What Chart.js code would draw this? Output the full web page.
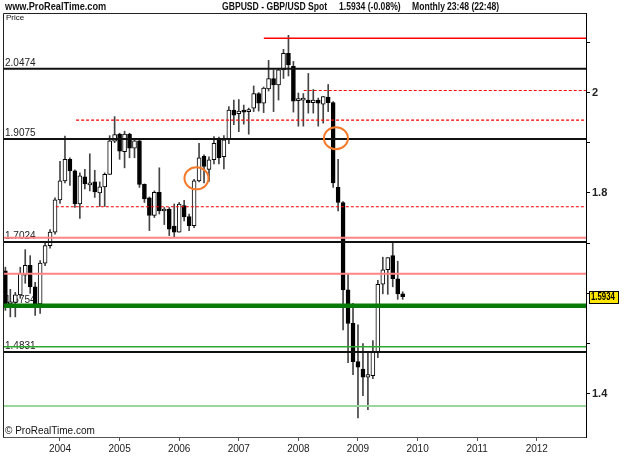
<!DOCTYPE html>
<html>
<head>
<meta charset="utf-8">
<script src="https://cdn.jsdelivr.net/npm/chart.js@4.4.0/dist/chart.umd.min.js"></script>
<style>
  html, body { margin: 0; padding: 0; background: #fff; }
  #wrap { width: 625px; height: 469px; }
</style>
</head>
<body>
<div id="wrap"><canvas id="chart" width="625" height="469"></canvas></div>
<script>
// Monthly GBPUSD candles, Feb 2003 .. Oct 2009 (last one still open)
const firstYear = 2003;
const firstMonth = 2;

const opens = [
  1.645, 1.579, 1.582, 1.597, 1.636, 1.656, 1.613, 1.579, 1.660, 1.695, 1.722, 1.786,
  1.824, 1.867, 1.844, 1.778, 1.832, 1.816, 1.822, 1.800, 1.812, 1.837, 1.903, 1.917,
  1.882, 1.917, 1.889, 1.904, 1.817, 1.790, 1.755, 1.801, 1.764, 1.768, 1.734, 1.722,
  1.775, 1.753, 1.735, 1.824, 1.873, 1.847, 1.866, 1.906, 1.872, 1.906, 1.965, 1.958,
  1.963, 1.962, 1.969, 1.998, 1.979, 2.007, 2.028, 2.015, 2.045, 2.078, 2.052, 1.984,
  1.985, 1.985, 1.980, 1.985, 1.977, 1.991, 1.980, 1.811, 1.781, 1.607, 1.540, 1.464,
  1.449, 1.433, 1.436, 1.484, 1.618, 1.647, 1.675, 1.629, 1.599
];
const highs = [
  1.652, 1.608, 1.602, 1.652, 1.687, 1.675, 1.622, 1.665, 1.700, 1.727, 1.790, 1.863,
  1.913, 1.870, 1.846, 1.840, 1.847, 1.878, 1.845, 1.822, 1.840, 1.914, 1.952, 1.919,
  1.923, 1.919, 1.906, 1.906, 1.818, 1.792, 1.804, 1.850, 1.771, 1.771, 1.778, 1.781,
  1.785, 1.758, 1.827, 1.899, 1.876, 1.872, 1.912, 1.911, 1.914, 1.972, 1.985, 1.986,
  1.975, 1.969, 2.013, 2.000, 2.011, 2.064, 2.045, 2.046, 2.086, 2.114, 2.062, 1.999,
  1.998, 2.038, 2.006, 1.989, 1.992, 2.016, 1.982, 1.867, 1.783, 1.640, 1.580, 1.537,
  1.500, 1.484, 1.506, 1.626, 1.672, 1.671, 1.702, 1.664, 1.603
];
const lows = [
  1.566, 1.553, 1.553, 1.590, 1.620, 1.600, 1.556, 1.560, 1.655, 1.690, 1.718, 1.779,
  1.820, 1.815, 1.771, 1.749, 1.808, 1.804, 1.791, 1.773, 1.773, 1.837, 1.900, 1.867,
  1.850, 1.870, 1.870, 1.811, 1.781, 1.725, 1.751, 1.758, 1.737, 1.715, 1.712, 1.722,
  1.744, 1.725, 1.731, 1.822, 1.820, 1.823, 1.858, 1.858, 1.848, 1.898, 1.936, 1.922,
  1.937, 1.917, 1.962, 1.963, 1.960, 2.003, 1.962, 1.985, 2.028, 2.033, 1.961, 1.933,
  1.933, 1.959, 1.959, 1.933, 1.939, 1.962, 1.811, 1.764, 1.527, 1.462, 1.438, 1.352,
  1.396, 1.368, 1.430, 1.472, 1.599, 1.598, 1.613, 1.588, 1.588
];
const closes = [
  1.579, 1.582, 1.597, 1.640, 1.656, 1.613, 1.579, 1.660, 1.695, 1.722, 1.786, 1.824,
  1.867, 1.844, 1.778, 1.834, 1.818, 1.820, 1.802, 1.812, 1.837, 1.904, 1.916, 1.883,
  1.917, 1.889, 1.904, 1.817, 1.788, 1.755, 1.801, 1.764, 1.768, 1.728, 1.722, 1.778,
  1.752, 1.735, 1.824, 1.870, 1.853, 1.866, 1.899, 1.870, 1.906, 1.965, 1.955, 1.963,
  1.961, 1.966, 1.998, 1.979, 2.009, 2.028, 2.015, 2.045, 2.078, 2.055, 1.983, 1.987,
  1.987, 1.980, 1.985, 1.979, 1.992, 1.980, 1.820, 1.781, 1.607, 1.540, 1.464, 1.453,
  1.433, 1.438, 1.484, 1.618, 1.647, 1.671, 1.629, 1.599, 1.5934
];

// Horizontal levels drawn on the chart (start = year the line begins, null = from left edge)
const levelValues = [2.108, 2.0474, 2.004, 1.945, 1.9075, 1.7725, 1.7108, 1.7024, 1.639, 1.5754, 1.4937, 1.4831, 1.3755];
const levelStarts = [2007.42, null, 2008.09, 2004.27, null, 2003.93, null, null, null, null, null, null, null];
const levelLabels = ['', '2.0474', '', '', '1.9075', '', '', '1.7024', '', '1.5754', '', '1.4831', ''];
const levelKinds = ['red', 'black', 'redDot', 'redDot', 'black', 'redDot', 'pink', 'black', 'pink', 'greenThick', 'green', 'black', 'lightGreen'];

// Orange circled spots
const markX = [2006.29, 2008.63];
const markY = [1.829, 1.9088];

const yearTicks = [2004, 2005, 2006, 2007, 2008, 2009, 2010, 2011, 2012];
const priceLabels = [1.4, 1.8, 2.0];
const lastPrice = 1.5934;
const headerParts = ['GBPUSD - GBP/USD Spot', '1.5934 (-0.08%)', 'Monthly', '23:48 (22:48)'];

const X_MIN = 2003.0436, X_MAX = 2012.826;
const Y_MIN = 1.3138, Y_MAX = 2.1584;
const FONT = '"Liberation Sans", Arial, sans-serif';

const levelStyle = {
  red:        { color: '#ff0000', width: 1.5, dash: [] },
  redDot:     { color: '#ff0000', width: 1.2, dash: [3, 2] },
  black:      { color: '#111111', width: 2, dash: [] },
  pink:       { color: '#ff8484', width: 2, dash: [] },
  greenThick: { color: '#077a07', width: 4.5, dash: [] },
  green:      { color: '#2fa82f', width: 1.5, dash: [] },
  lightGreen: { color: '#9ad69a', width: 2, dash: [] }
};

function monthX(i) {
  return firstYear + (firstMonth - 1 + i) / 12;
}

// condensed text, like the terminal's narrow bold font
function narrowText(ctx, text, x, y, squeeze) {
  ctx.save();
  ctx.translate(x, y);
  ctx.scale(squeeze, 1);
  ctx.fillText(text, 0, 0);
  ctx.restore();
}

const wickData = lows.map((l, i) => ({ x: monthX(i), y: [l, highs[i]] }));
const bodyData = opens.map((o, i) => ({ x: monthX(i), y: [o, closes[i]] }));
const bodyFill = opens.map((o, i) => (closes[i] >= o ? '#ffffff' : '#000000'));

const levelSets = levelValues.map((v, i) => {
  const st = levelStyle[levelKinds[i]];
  return {
    type: 'line',
    data: [{ x: levelStarts[i] === null ? X_MIN : levelStarts[i], y: v }, { x: X_MAX, y: v }],
    borderColor: st.color,
    borderWidth: st.width,
    borderDash: st.dash,
    pointRadius: 0,
    fill: false,
    order: 0
  };
});

const decorPlugin = {
  id: 'decor',
  beforeDatasetsDraw(chart) {
    const { ctx, chartArea: a, scales: { y } } = chart;
    ctx.save();
    ctx.font = '10px ' + FONT;
    ctx.fillStyle = '#222';
    ctx.textBaseline = 'bottom';
    levelLabels.forEach((t, i) => {
      if (t) ctx.fillText(t, a.left + 2, y.getPixelForValue(levelValues[i]) - 0.5);
    });
    ctx.restore();
  },
  afterDatasetsDraw(chart) {
    const { ctx, scales: { x, y } } = chart;
    ctx.save();
    ctx.strokeStyle = '#f47a2a';
    ctx.lineWidth = 2;
    markX.forEach((mx, i) => {
      ctx.beginPath();
      ctx.ellipse(x.getPixelForValue(mx), y.getPixelForValue(markY[i]), 12, 11, 0, 0, Math.PI * 2);
      ctx.stroke();
    });
    ctx.restore();
  },
  afterDraw(chart) {
    const { ctx, chartArea: a, scales: { y } } = chart;
    ctx.save();
    // frame
    ctx.strokeStyle = '#222';
    ctx.lineWidth = 1;
    ctx.beginPath();
    ctx.moveTo(a.left + 0.5, a.bottom);
    ctx.lineTo(a.left + 0.5, a.top + 0.5);
    ctx.lineTo(a.right, a.top + 0.5);
    ctx.stroke();

    // header
    ctx.fillStyle = '#111';
    ctx.textBaseline = 'middle';
    ctx.font = 'bold 10px ' + FONT;
    narrowText(ctx, 'www.ProRealTime.com', 5, 7, 0.92);
    const hx = [222, 339, 412, 447];
    headerParts.forEach((t, i) => narrowText(ctx, t, hx[i], 7, 0.86));

    ctx.font = '8px ' + FONT;
    ctx.fillText('Price', 6, 18);
    ctx.font = '10px ' + FONT;
    ctx.textBaseline = 'bottom';
    ctx.fillText('\u00a9 ProRealTime.com', 5, a.bottom - 0.5);

    // last price tag
    const py = Math.round(y.getPixelForValue(lastPrice));
    ctx.fillStyle = '#ffe600';
    ctx.fillRect(a.right + 3, py - 6, 29, 12);
    ctx.strokeStyle = '#000';
    ctx.strokeRect(a.right + 3.5, py - 5.5, 29, 12);
    ctx.fillStyle = '#000';
    ctx.font = 'bold 10px ' + FONT;
    ctx.textBaseline = 'middle';
    narrowText(ctx, lastPrice.toFixed(4), a.right + 5, py + 0.5, 0.78);
    ctx.restore();
  }
};

new Chart(document.getElementById('chart'), {
  type: 'bar',
  data: {
    datasets: [
      ...levelSets,
      {
        type: 'bar',
        data: bodyData,
        backgroundColor: bodyFill,
        borderColor: '#000',
        borderWidth: 1,
        borderSkipped: false,
        barThickness: 4,
        minBarLength: 2,
        grouped: false,
        order: 1
      },
      {
        type: 'bar',
        data: wickData,
        backgroundColor: '#444',
        borderWidth: 0,
        barThickness: 1,
        grouped: false,
        order: 2
      }
    ]
  },
  options: {
    responsive: false,
    animation: false,
    devicePixelRatio: 1,
    layout: { padding: { left: 3, top: 13, right: 0, bottom: 0 } },
    plugins: { legend: { display: false }, tooltip: { enabled: false } },
    scales: {
      x: {
        type: 'linear',
        min: X_MIN,
        max: X_MAX,
        offset: false,
        afterFit(s) { s.height = 32; },
        afterBuildTicks(s) { s.ticks = yearTicks.map(v => ({ value: v })); },
        ticks: {
          autoSkip: false,
          maxRotation: 0,
          padding: 2,
          color: '#222',
          font: { family: FONT, size: 10 },
          callback: v => String(v)
        },
        grid: { offset: false, drawOnChartArea: false, drawTicks: true, tickLength: 4, color: '#555' },
        border: { display: true, color: '#555', width: 1 }
      },
      y: {
        position: 'right',
        min: Y_MIN,
        max: Y_MAX,
        afterFit(s) { s.width = 39; },
        ticks: {
          stepSize: 0.1,
          includeBounds: false,
          padding: 2,
          color: '#222',
          font: { family: FONT, size: 11, weight: 'bold' },
          callback: v => {
            const hit = priceLabels.find(p => Math.abs(p - v) < 1e-6);
            return hit === undefined ? '' : String(hit);
          }
        },
        grid: { drawOnChartArea: false, drawTicks: true, tickLength: 4, color: '#000' },
        border: { display: true, color: '#000', width: 1 }
      }
    }
  },
  plugins: [decorPlugin]
});
</script>
</body>
</html>
